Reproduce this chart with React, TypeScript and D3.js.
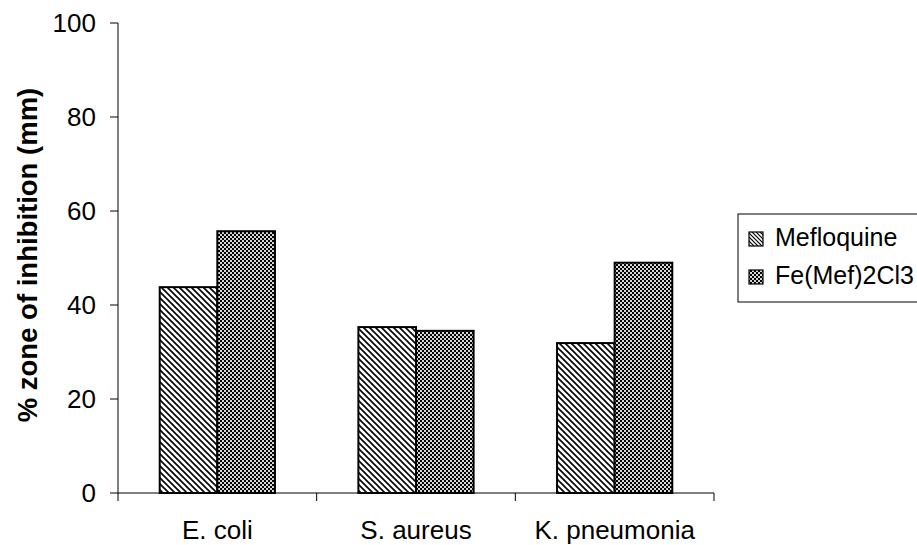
import React from "react";
import * as d3 from "d3";

const categories = ["E. coli", "S. aureus", "K. pneumonia"];
const seriesNames = ["Mefloquine", "Fe(Mef)2Cl3"];
const mefloquine = [43.8, 35.3, 31.9];
const feMef = [55.7, 34.5, 49.0];
const yTicks = [0, 20, 40, 60, 80, 100];

const W = 917;
const H = 545;
const M = { left: 118, right: 714, top: 23, bottom: 493 };
const FONT = "'Liberation Sans', Arial, Helvetica, sans-serif";

export default function App() {
  const x = d3.scaleBand<string>().domain(categories).range([M.left, M.right]).padding(0);
  const y = d3.scaleLinear().domain([0, 100]).range([M.bottom, M.top]);
  const groupW = x.bandwidth() * 0.58;
  const inner = d3.scaleBand<string>().domain(seriesNames).range([0, groupW]).padding(0);
  const values = [mefloquine, feMef];
  const fills = ["url(#hatch)", "url(#checker)"];
  const boundaries = [...categories.map((c) => x(c) as number), M.right];

  return (
    <svg width={W} height={H} style={{ position: "absolute", left: 0, top: 0, background: "#fff" }} fontFamily={FONT}>
      <defs>
        <pattern id="hatch" patternUnits="userSpaceOnUse" width={6} height={6}>
          <rect width={6} height={6} fill="#fff" />
          <path d="M-1.5,4.5 L1.5,7.5 M0,0 L6,6 M4.5,-1.5 L7.5,1.5" stroke="#000" strokeWidth={1.6} />
        </pattern>
        <pattern id="checker" patternUnits="userSpaceOnUse" width={4} height={4}>
          <rect width={4} height={4} fill="#d8d8d8" />
          <rect x={0} y={0} width={2} height={2} fill="#000" />
          <rect x={2} y={2} width={2} height={2} fill="#000" />
        </pattern>
        <pattern id="hatchS" patternUnits="userSpaceOnUse" width={4} height={4}>
          <rect width={4} height={4} fill="#fff" />
          <path d="M-1,3 L1,5 M0,0 L4,4 M3,-1 L5,1" stroke="#000" strokeWidth={1.2} />
        </pattern>
      </defs>

      {/* bars */}
      {categories.map((c, ci) => {
        const gx = (x(c) as number) + (x.bandwidth() - groupW) / 2;
        return seriesNames.map((s, si) => {
          const v = values[si][ci];
          return (
            <rect
              key={c + s}
              x={gx + (inner(s) as number)}
              y={y(v)}
              width={inner.bandwidth()}
              height={y(0) - y(v)}
              fill={fills[si]}
              stroke="#000"
              strokeWidth={2}
            />
          );
        });
      })}

      {/* y axis */}
      <line x1={M.left} x2={M.left} y1={M.top} y2={M.bottom} stroke="#000" strokeWidth={1} />
      {yTicks.map((t) => (
        <g key={t}>
          <line x1={M.left - 8} x2={M.left} y1={y(t)} y2={y(t)} stroke="#000" strokeWidth={1} />
          <text x={96} y={y(t)} dy="0.35em" textAnchor="end" fontSize={26} fill="#000">
            {t}
          </text>
        </g>
      ))}

      {/* x axis */}
      <line x1={M.left} x2={M.right} y1={M.bottom} y2={M.bottom} stroke="#000" strokeWidth={1} />
      {boundaries.map((b, i) => (
        <line key={i} x1={b} x2={b} y1={M.bottom} y2={M.bottom + 8} stroke="#000" strokeWidth={1} />
      ))}
      {categories.map((c) => (
        <text key={c} x={(x(c) as number) + x.bandwidth() / 2} y={539} textAnchor="middle" fontSize={26} fill="#000">
          {c}
        </text>
      ))}

      {/* y title */}
      <text
        transform={`translate(37,${(M.top + M.bottom) / 2 - 3}) rotate(-90)`}
        textAnchor="middle"
        fontSize={27.5}
        fontWeight="bold"
        fill="#000"
      >
        % zone of inhibition (mm)
      </text>

      {/* legend */}
      <rect x={738} y={214} width={200} height={88} fill="#fff" stroke="#000" strokeWidth={1} />
      {seriesNames.map((s, i) => (
        <g key={s}>
          <rect
            x={749}
            y={232 + i * 38}
            width={14}
            height={14}
            fill={i === 0 ? "url(#hatchS)" : "url(#checker)"}
            stroke="#000"
            strokeWidth={1.2}
          />
          <text x={775} y={246 + i * 38} fontSize={25} fill="#000">
            {s}
          </text>
        </g>
      ))}
    </svg>
  );
}
